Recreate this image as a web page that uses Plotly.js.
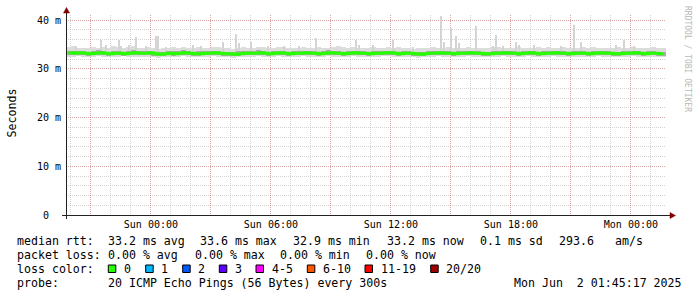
<!DOCTYPE html>
<html><head><meta charset="utf-8">
<script src="https://cdn.plot.ly/plotly-3.0.1.min.js"></script>
<style>html,body{margin:0;padding:0;background:#fff;}#chart{width:697px;height:297px;}</style>
</head><body><div id="chart"></div>
<script>
// ---- data ----
const rangeStart = '2025-05-31 19:45:17';
const rangeEnd = '2025-06-02 01:45:17';
const binStartUTC = Date.UTC(2025, 4, 31, 19, 45, 0);
const binMs = 15 * 60 * 1000;

const median = [33.3,33.2,33.3,33.2,33.1,33.2,33.3,33.2, 33.1,33.2,33.2,33.1,33.2,33.3,33.2,33.2,
 33.3,33.1,33.0,33.1,33.2,33.1,33.2,33.3, 33.2,33.1,33.1,33.2,33.2,33.3,33.2,33.1,
 33.1,33.0,33.1,33.2,33.2,33.2,33.3,33.2, 33.1,33.2,33.3,33.2,33.1,33.2,33.2,33.3,
 33.2,33.2,33.1,33.2,33.3,33.2,33.2,33.1, 33.2,33.3,33.2,33.2,33.1,33.2,33.2,33.3,
 33.3,33.2,33.1,33.2,33.2,33.1,33.0,33.1, 33.2,33.2,33.3,33.2,33.2,33.1,33.2,33.2,
 33.3,33.2,33.2,33.1,33.1,33.2,33.2,33.3, 33.2,33.2,33.1,33.2,33.3,33.2,33.1,33.2,
 33.2,33.3,33.2,33.2,33.1,33.2,33.2,33.2, 33.1,33.2,33.3,33.2,33.2,33.1,33.1,33.2,
 33.2,33.3,33.2,33.1,33.2,33.2,33.1,33.1];
const smokeHi = [34.4,34.6,34.3,34.2,34.3,34.4,34.2,34.5, 34.3,34.6,34.5,34.3,34.4,34.6,34.3,34.2,
 34.4,34.3,34.1,34.2,34.3,34.5,34.2,34.4, 34.3,34.2,34.4,34.3,34.2,34.4,34.5,34.3,
 34.2,34.1,34.3,34.4,34.2,34.3,34.5,34.4, 34.3,34.2,34.4,34.5,34.3,34.2,34.3,34.4,
 34.2,34.3,34.4,34.2,34.3,34.5,34.6,34.4, 34.3,34.5,34.2,34.3,34.2,34.4,34.3,34.2,
 34.4,34.3,34.5,34.3,34.2,34.1,34.2,34.3, 34.3,34.4,34.2,34.3,34.5,34.3,34.2,34.3,
 34.4,34.3,34.2,34.3,34.2,34.4,34.5,34.3, 34.2,34.3,34.4,34.2,34.3,34.2,34.4,34.3,
 34.4,34.2,34.3,34.4,34.3,34.2,34.3,34.5, 34.3,34.4,34.2,34.3,34.2,34.3,34.4,34.2,
 34.3,34.4,34.3,34.2,34.3,34.4,34.2,34.3];
const smokeLo = [32.5,32.4,32.6,32.5,32.5,32.4,32.6,32.5, 32.4,32.5,32.5,32.6,32.4,32.5,32.5,32.4,
 32.5,32.4,32.3,32.4,32.5,32.5,32.4,32.6, 32.5,32.4,32.5,32.5,32.4,32.6,32.5,32.4,
 32.4,32.3,32.4,32.5,32.5,32.4,32.6,32.5, 32.4,32.5,32.6,32.5,32.4,32.5,32.5,32.6,
 32.5,32.5,32.4,32.5,32.6,32.5,32.4,32.4, 32.5,32.6,32.5,32.4,32.4,32.5,32.5,32.6,
 32.6,32.5,32.4,32.5,32.5,32.4,32.3,32.4, 32.5,32.5,32.6,32.5,32.4,32.4,32.5,32.5,
 32.6,32.5,32.5,32.4,32.4,32.5,32.5,32.6, 32.5,32.5,32.4,32.5,32.6,32.5,32.4,32.5,
 32.5,32.6,32.5,32.5,32.4,32.5,32.5,32.5, 32.4,32.5,32.6,32.5,32.5,32.4,32.4,32.5,
 32.5,32.6,32.5,32.4,32.5,32.5,32.4,32.4];
const midHi = [33.7,33.6,33.7,33.6,33.5,33.6,33.8,33.6, 33.5,33.7,33.6,33.5,33.6,33.8,33.6,33.6,
 33.7,33.5,33.4,33.5,33.6,33.6,33.6,33.8, 33.6,33.5,33.6,33.6,33.7,33.7,33.6,33.5,
 33.5,33.4,33.6,33.6,33.7,33.6,33.8,33.6, 33.5,33.6,33.7,33.6,33.5,33.6,33.7,33.7,
 33.6,33.7,33.5,33.6,33.8,33.6,33.6,33.5, 33.6,33.7,33.6,33.6,33.5,33.6,33.7,33.7,
 33.7,33.6,33.5,33.6,33.6,33.5,33.4,33.5, 33.6,33.6,33.7,33.6,33.7,33.5,33.6,33.6,
 33.7,33.6,33.6,33.5,33.5,33.6,33.7,33.7, 33.6,33.6,33.5,33.6,33.7,33.6,33.5,33.6,
 33.6,33.7,33.6,33.6,33.5,33.6,33.7,33.6, 33.5,33.6,33.7,33.6,33.6,33.5,33.5,33.6,
 33.6,33.7,33.6,33.5,33.6,33.7,33.5,33.5];
const midLo = [32.9,32.8,32.9,32.8,32.7,32.8,32.9,32.8, 32.7,32.8,32.8,32.7,32.8,32.9,32.8,32.8,
 32.9,32.7,32.6,32.7,32.8,32.7,32.8,32.9, 32.8,32.7,32.7,32.8,32.8,32.9,32.8,32.7,
 32.7,32.6,32.7,32.8,32.8,32.8,32.9,32.8, 32.7,32.8,32.9,32.8,32.7,32.8,32.8,32.9,
 32.8,32.8,32.7,32.8,32.9,32.8,32.8,32.7, 32.8,32.9,32.8,32.8,32.7,32.8,32.8,32.9,
 32.9,32.8,32.7,32.8,32.8,32.7,32.6,32.7, 32.8,32.8,32.9,32.8,32.8,32.7,32.8,32.8,
 32.9,32.8,32.8,32.7,32.7,32.8,32.8,32.9, 32.8,32.8,32.7,32.8,32.9,32.8,32.7,32.8,
 32.8,32.9,32.8,32.8,32.7,32.8,32.8,32.8, 32.7,32.8,32.9,32.8,32.8,32.7,32.7,32.8,
 32.8,32.9,32.8,32.7,32.8,32.8,32.7,32.7];

const spikeTimes = ['2025-05-31 20:15','2025-05-31 21:30','2025-05-31 21:45','2025-05-31 22:25','2025-05-31 22:30','2025-05-31 22:55','2025-05-31 23:15','2025-05-31 23:45',
 '2025-06-01 00:15','2025-06-01 00:20','2025-06-01 00:45','2025-06-01 02:05','2025-06-01 02:30',
 '2025-06-01 03:35','2025-06-01 04:15','2025-06-01 04:25','2025-06-01 05:00','2025-06-01 05:50','2025-06-01 06:40','2025-06-01 07:25','2025-06-01 08:15',
 '2025-06-01 10:15','2025-06-01 10:25','2025-06-01 11:05','2025-06-01 12:05','2025-06-01 12:10','2025-06-01 13:05',
 '2025-06-01 14:30','2025-06-01 14:40','2025-06-01 15:00','2025-06-01 15:15','2025-06-01 15:25','2025-06-01 16:15',
 '2025-06-01 17:05','2025-06-01 17:15','2025-06-01 17:35','2025-06-01 18:15','2025-06-01 18:25','2025-06-01 19:10','2025-06-01 20:30',
 '2025-06-01 21:10','2025-06-01 21:30','2025-06-01 23:15','2025-06-01 23:40','2025-06-02 00:10'];
const spikeValues = [34.7,36.0,34.9,35.9,34.7,34.9,36.6,34.7, 36.7,36.7,34.5,34.9,34.7,
 35.5,37.1,35.2,35.5,34.7,34.7,34.7,36.3, 35.8,34.9,34.9,35.9,34.3,34.4,
 40.8,35.5,38.3,36.7,35.3,38.7, 34.7,36.9,34.7,35.5,34.9,34.9,34.7, 39.0,35.5,34.9,35.8,34.7];

const xTickVals = ['2025-05-31 21:00','2025-06-01 00:00','2025-06-01 03:00','2025-06-01 06:00','2025-06-01 09:00',
 '2025-06-01 12:00','2025-06-01 15:00','2025-06-01 18:00','2025-06-01 21:00','2025-06-02 00:00'];
const xTickText = ['','Sun 00:00','','Sun 06:00','','Sun 12:00','','Sun 18:00','','Mon 00:00'];
const yTickVals = [0, 10, 20, 30, 40];
const yTickText = ['0\u00a0\u00a0', '10 m', '20 m', '30 m', '40 m'];

const lossLabels = ['0','1','2','3','4-5','6-10','11-19','20/20'];
const lossColors = ['#26ff00','#00b8ff','#0059ff','#5e00ff','#ff00ff','#ff5500','#ff0000','#a10000'];
const medianColor = '#26ff00';

const legendRtt = ['median rtt:','33.2 ms avg','33.6 ms max','32.9 ms min','33.2 ms now','0.1 ms sd','293.6','am/s'];
const legendLoss = ['packet loss:','0.00 % avg','0.00 % max','0.00 % min','0.00 % now'];
const probeText = ['probe:','20 ICMP Echo Pings (56 Bytes) every 300s','Mon Jun  2 01:45:17 2025'];

// ---- layout helpers (pixel -> paper) ----
const L = 66, T = 15, W = 600, H = 200;
const px = v => (v - L) / W;
const py = v => (T + H - v) / H;
const MONO = 'DejaVu Sans Mono';
const LEGFONT = {family: MONO, size: 11.6, color: '#000'};
function ann(text, x, y, extra) {
  return Object.assign({xref:'paper', yref:'paper', x: px(x), y: py(y), xanchor:'left', yanchor:'middle',
    text: String(text).replace(/ /g, '\u00a0'), showarrow:false, font: LEGFONT, borderpad:0}, extra || {});
}

const binX = median.map((_, i) => binStartUTC + (i + 0.5) * binMs);

const traces = [
  {type:'bar', x: binX, base: smokeLo, y: smokeHi.map((h, i) => h - smokeLo[i]), width: binMs,
   marker:{color:'#dcdcdc', line:{width:0}}, hoverinfo:'skip'},
  {type:'bar', x: spikeTimes, base: spikeValues.map(() => 33.0), y: spikeValues.map(v => v - 33.0), width: 360000,
   marker:{color:'#d4d4d4', line:{width:0}}, hoverinfo:'skip'},
  {type:'bar', x: binX, base: midLo, y: midHi.map((h, i) => h - midLo[i]), width: binMs,
   marker:{color:'#ababab', line:{width:0}}, hoverinfo:'skip'},
  {type:'scatter', mode:'lines', x: binX, y: median, line:{color: medianColor, width: 3, shape:'hv'}, hoverinfo:'skip'}
];

const annotations = [];
const rttX = [16, 107.3, 199, 292, 386, 479.3, 558.3, 614];
legendRtt.forEach((t, i) => annotations.push(ann(t, rttX[i], 240.8)));
const lossX = [16, 107.3, 194, 279.3, 365];
legendLoss.forEach((t, i) => annotations.push(ann(t, lossX[i], 254.8)));
annotations.push(ann('loss color:', 16, 268.8));
const sqX = [108.3, 145.7, 182.7, 219.3, 256, 307.3, 365, 430.7];
const lblX = [122.7, 160, 197, 234, 270.7, 322, 379.7, 445];
lossLabels.forEach((t, i) => annotations.push(ann(t, lblX[i], 268.8)));
const probeX = [16, 107.3, 512.7];
probeText.forEach((t, i) => annotations.push(ann(t, probeX[i], 283.2)));
annotations.push({xref:'paper', yref:'paper', x: px(11), y: py(113.5), text:'Seconds', textangle:-90,
  showarrow:false, font:{family: MONO, size: 11.6, color:'#000'}, xanchor:'center', yanchor:'middle'});
annotations.push({xref:'paper', yref:'paper', x: px(687), y: py(59), text:'RRDTOOL / TOBI OETIKER'.replace(/ /g,'\u00a0'), textangle:90,
  showarrow:false, font:{family: MONO, size: 8, color:'#b8b8b8'}, xanchor:'center', yanchor:'middle'});

const shapes = [];
lossColors.forEach((c, i) => shapes.push({type:'rect', xref:'paper', yref:'paper',
  x0: px(sqX[i]), x1: px(sqX[i] + 7.5), y0: py(265), y1: py(272.5), fillcolor: c, line:{color:'#000', width:1}}));
const AX = '#212121', ARROW = '#800000';
shapes.push({type:'line', xref:'paper', yref:'paper', x0: px(62), x1: px(671), y0: py(215.5), y1: py(215.5), line:{color: AX, width:1}});
shapes.push({type:'line', xref:'paper', yref:'paper', x0: px(66.5), x1: px(66.5), y0: py(219), y1: py(11), line:{color: AX, width:1}});
shapes.push({type:'path', xref:'paper', yref:'paper', fillcolor: ARROW, line:{color: ARROW, width:0.5},
  path: `M ${px(670)} ${py(212.5)} L ${px(675.5)} ${py(215.5)} L ${px(670)} ${py(218.5)} Z`});
shapes.push({type:'path', xref:'paper', yref:'paper', fillcolor: ARROW, line:{color: ARROW, width:0.5},
  path: `M ${px(63.5)} ${py(13)} L ${px(66.5)} ${py(7.5)} L ${px(69.5)} ${py(13)} Z`});

const GRID = 'rgba(143,143,143,0.38)', MGRID = 'rgba(222,79,79,0.34)';
const layout = {
  width: 697, height: 297,
  margin: {l: L, r: 697 - L - W, t: T, b: 297 - T - H, pad: 0},
  paper_bgcolor: '#ffffff', plot_bgcolor: '#ffffff',
  showlegend: false, barmode: 'overlay', bargap: 0, hovermode: false,
  xaxis: {type:'date', range:[rangeStart, rangeEnd], tickmode:'array', tickvals: xTickVals, ticktext: xTickText,
    showgrid: true, gridcolor: MGRID, gridwidth: 1, griddash: '1px,1px', zeroline: false, showline: false, ticks: '',
    tickfont: {family: MONO, size: 10, color: '#000'}, ticklabelstandoff: 2,
    minor: {dtick: 3600000, tick0: '2025-06-01 00:00', showgrid: true, gridcolor: GRID, gridwidth: 1, griddash: '1px,1px', ticks: ''},
    fixedrange: true},
  yaxis: {range:[0, H / 4.875], tickmode:'array', tickvals: yTickVals, ticktext: yTickText,
    showgrid: true, gridcolor: MGRID, gridwidth: 1, griddash: '1px,1px', zeroline: false, showline: false, ticks: '',
    tickfont: {family: MONO, size: 10, color: '#000'}, ticklabelstandoff: 4,
    minor: {dtick: 2, tick0: 0, showgrid: true, gridcolor: GRID, gridwidth: 1, griddash: '1px,1px', ticks: ''},
    fixedrange: true},
  annotations: annotations,
  shapes: shapes
};
Plotly.newPlot('chart', traces, layout, {staticPlot: true, displayModeBar: false});
</script></body></html>
